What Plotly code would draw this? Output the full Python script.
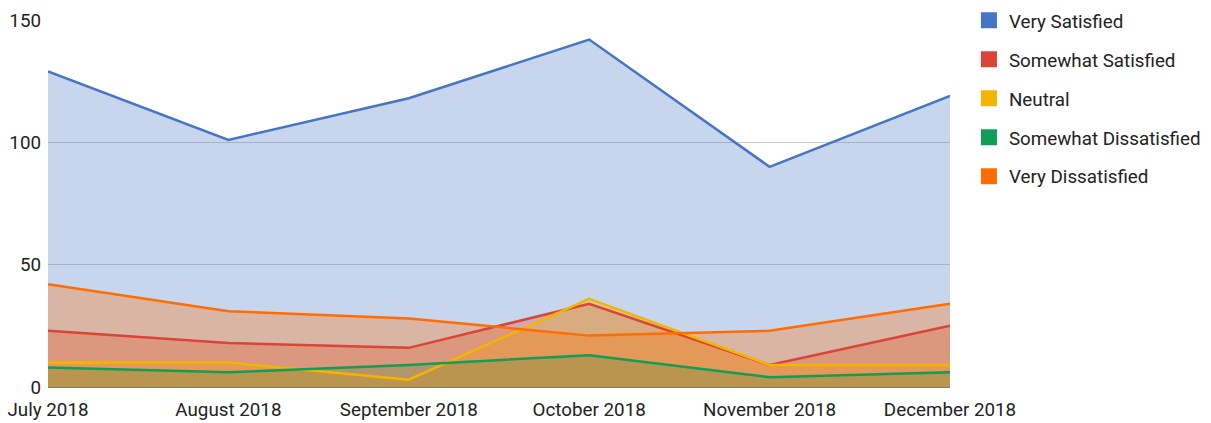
import plotly.graph_objects as go

months = ["July 2018", "August 2018", "September 2018", "October 2018", "November 2018", "December 2018"]
very_satisfied = [129, 101, 118, 142, 90, 119]
somewhat_satisfied = [23, 18, 16, 34, 9, 25]
neutral = [10, 10, 3, 36, 9, 9]
somewhat_dissatisfied = [8, 6, 9, 13, 4, 6]
very_dissatisfied = [42, 31, 28, 21, 23, 34]

series = [
    ("Very Satisfied", very_satisfied, (69, 117, 196)),
    ("Somewhat Satisfied", somewhat_satisfied, (219, 68, 55)),
    ("Neutral", neutral, (244, 180, 0)),
    ("Somewhat Dissatisfied", somewhat_dissatisfied, (15, 157, 88)),
    ("Very Dissatisfied", very_dissatisfied, (255, 109, 0)),
]

fig = go.Figure()
# filled areas first
for name, vals, (r, g, b) in series:
    fig.add_trace(go.Scatter(
        x=months, y=vals, name=name, mode="lines",
        line=dict(width=0, color=f"rgba({r},{g},{b},0)"),
        fill="tozeroy", fillcolor=f"rgba({r},{g},{b},0.3)",
        showlegend=False, legendgroup=name, hoverinfo="skip",
    ))
# lines on top of all fills
for name, vals, (r, g, b) in series:
    fig.add_trace(go.Scatter(
        x=months, y=vals, name=name, mode="lines",
        line=dict(color=f"rgb({r},{g},{b})", width=2.5),
        showlegend=False, legendgroup=name,
    ))
# legend swatches
for name, vals, (r, g, b) in series:
    fig.add_trace(go.Scatter(
        x=[None], y=[None], name=name, mode="markers",
        marker=dict(symbol="square", size=16, color=f"rgb({r},{g},{b})"),
        showlegend=True, legendgroup=name,
    ))

fs = 18.8
fig.update_layout(
    width=1203, height=415,
    margin=dict(l=40, r=261, t=12, b=36, autoexpand=False),
    plot_bgcolor="white", paper_bgcolor="white",
    font=dict(family="Roboto", size=fs, color="#222"),
    xaxis=dict(type="category", range=[0, 5], showgrid=False, zeroline=False,
               showline=False, ticks="", automargin=False,
               tickfont=dict(size=fs, color="#222"), ticklabelstandoff=9),
    yaxis=dict(range=[0, 150], tickvals=[0, 50, 100, 150], showgrid=True,
               gridcolor="#cccccc", gridwidth=1, zeroline=True, zerolinecolor="#8a7a55",
               zerolinewidth=1, ticks="", automargin=False,
               tickfont=dict(size=fs, color="#222"), ticklabelstandoff=6),
    legend=dict(x=1.021, y=1.05, xanchor="left", yanchor="top",
                font=dict(size=fs, color="#222"), tracegroupgap=11.5,
                bgcolor="rgba(0,0,0,0)"),
)

fig.write_html("out.html")
